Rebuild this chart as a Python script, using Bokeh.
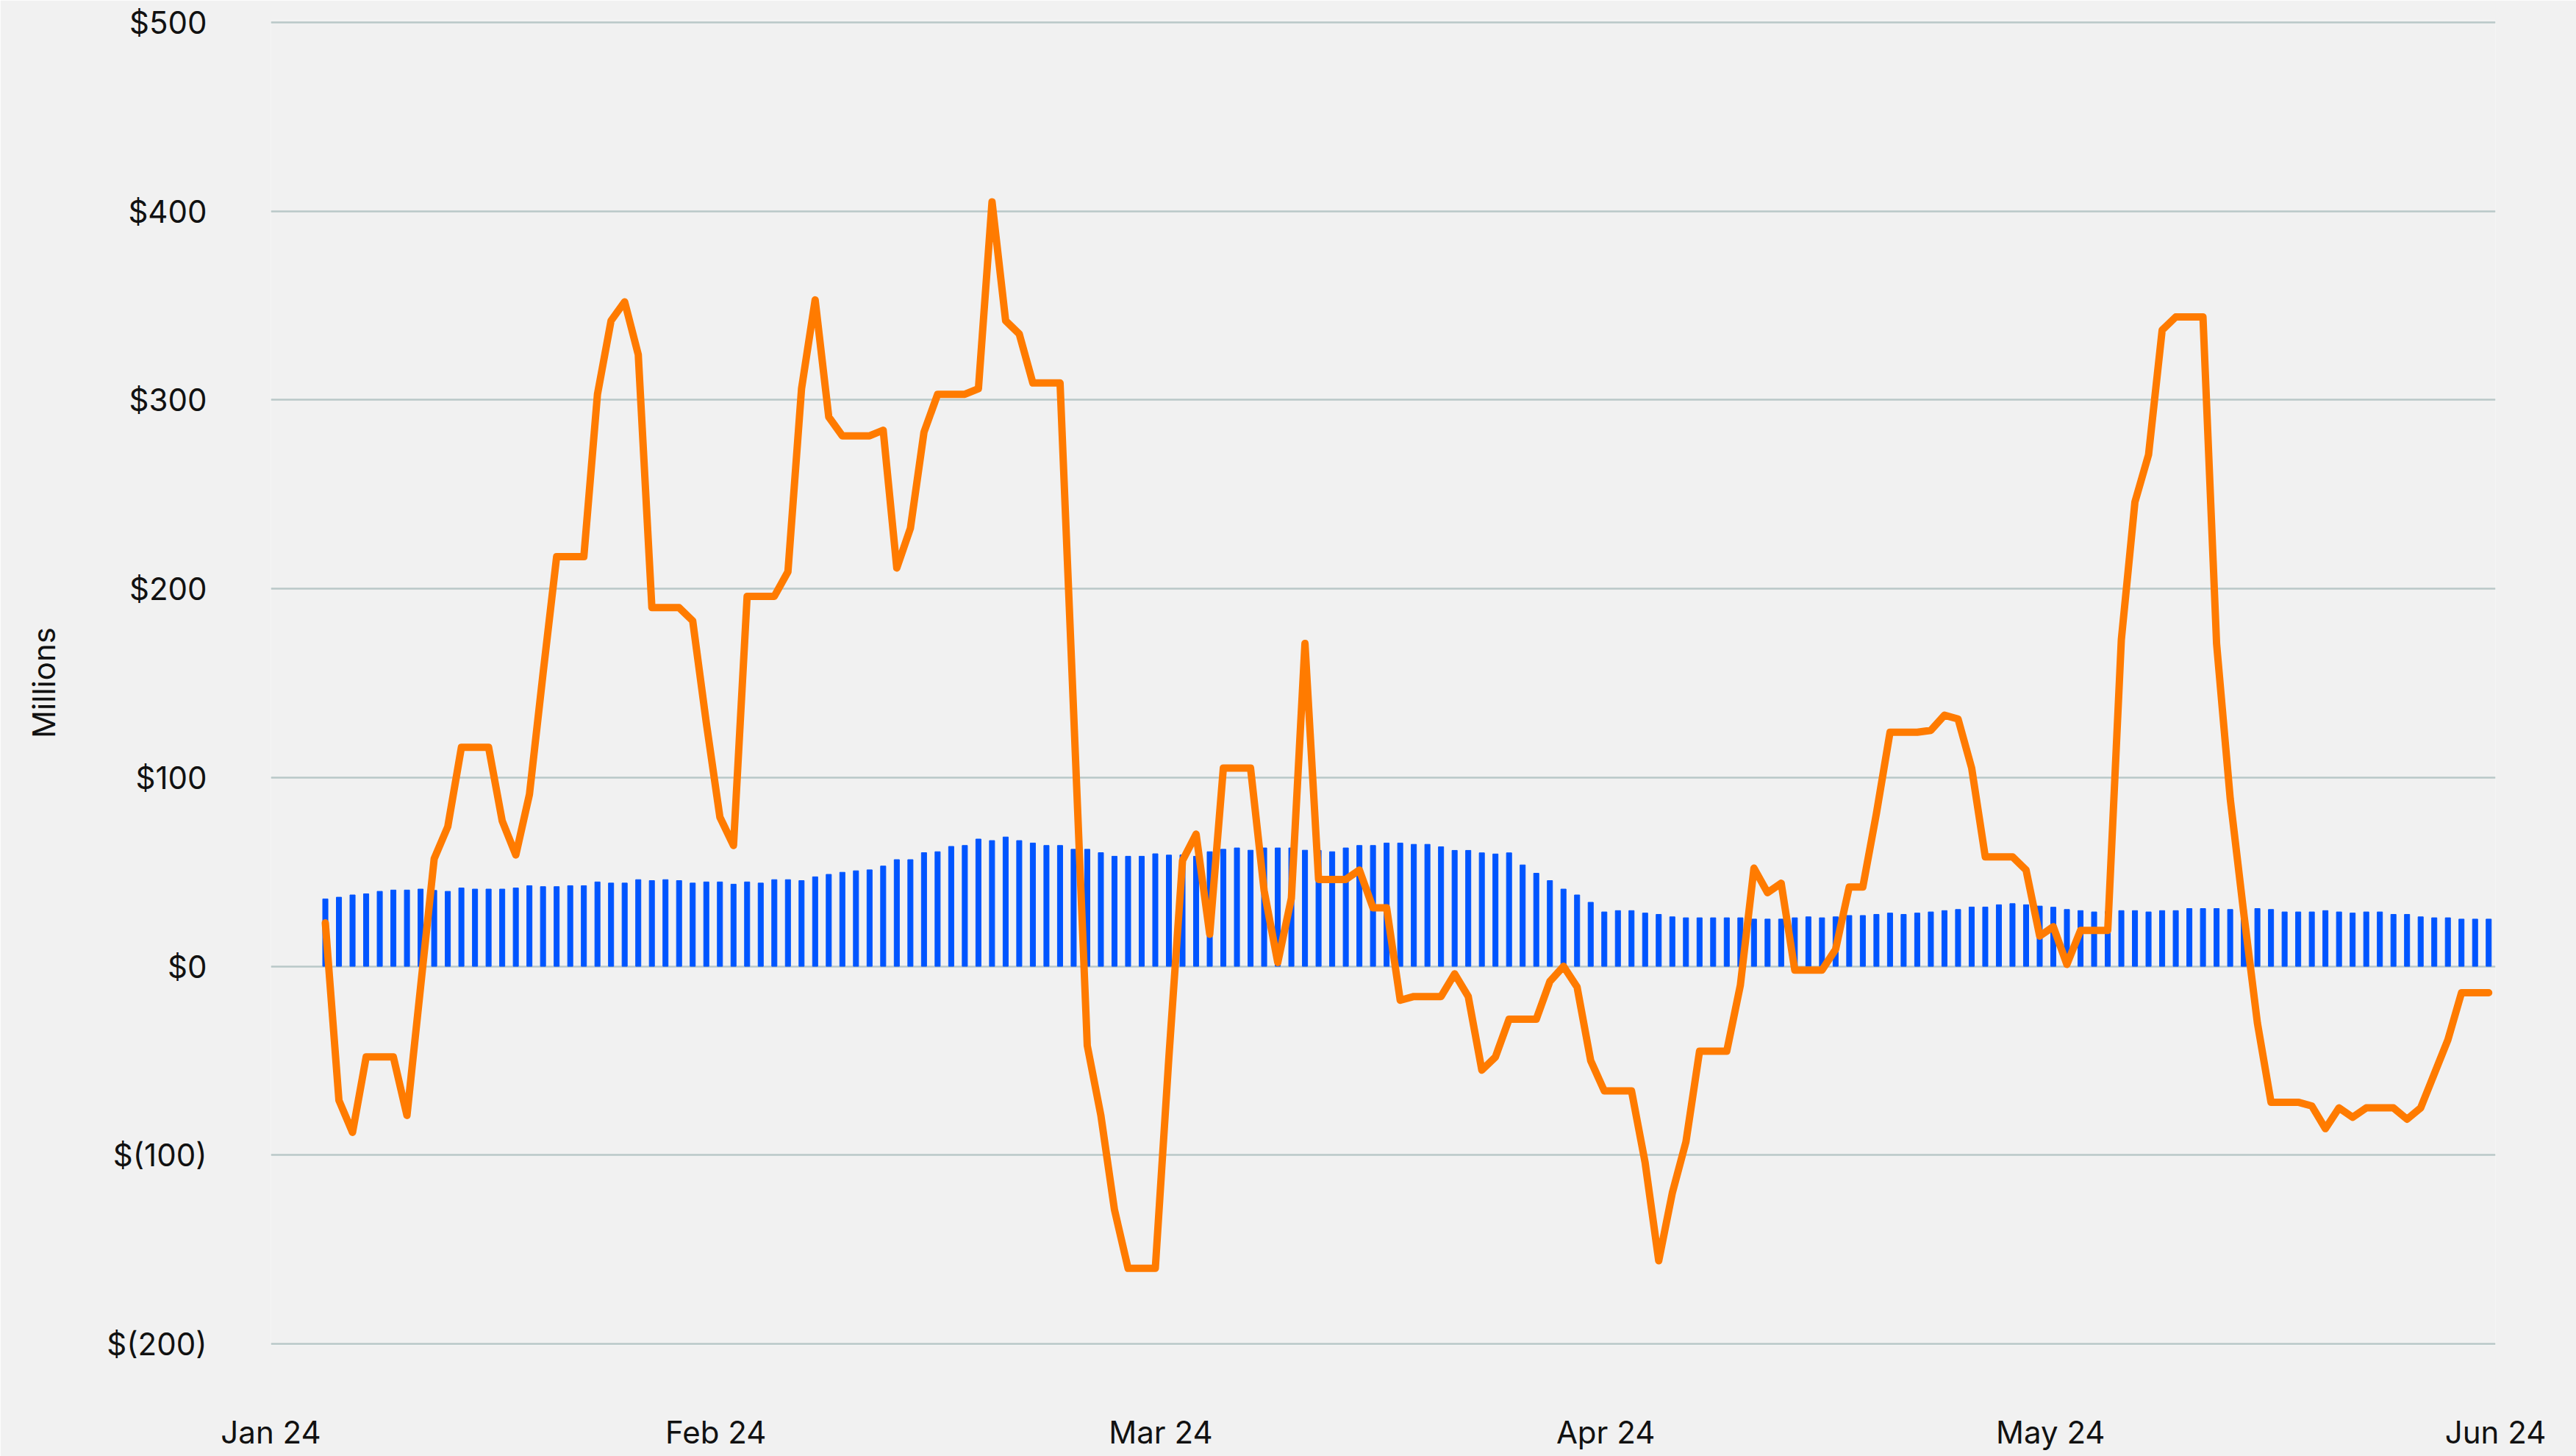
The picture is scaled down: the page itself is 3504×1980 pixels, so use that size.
from bokeh.plotting import figure
from bokeh.models import Range1d, FixedTicker
from bokeh.embed import file_html
from bokeh.resources import INLINE

# ---- data ----
bars = [35.7, 36.6, 37.8, 38.4, 39.7, 40.4, 40.4, 40.9, 40.2, 39.7,
        41.5, 40.9, 40.9, 40.9, 41.5, 42.7, 42.2, 42.2, 42.7, 42.7,
        44.7, 44.1, 44.1, 45.9, 45.4, 45.9, 45.4, 44.1, 44.7, 44.7,
        43.5, 44.7, 44.1, 45.9, 45.9, 45.4, 47.4, 48.7, 49.8, 50.6,
        51.1, 53.1, 56.5, 56.5, 60.2, 60.7, 63.5, 64.0, 67.4, 66.6,
        68.5, 66.6, 65.3, 64.0, 64.0, 62.0, 62.0, 60.2, 58.3, 58.3,
        58.3, 59.6, 58.9, 59.0, 58.3, 60.7, 62.0, 62.7, 61.5, 62.7,
        62.7, 62.7, 61.5, 61.4, 60.7, 62.7, 64.0, 64.0, 65.3, 65.3,
        64.6, 64.6, 63.3, 61.4, 61.4, 60.1, 59.5, 60.1, 53.7, 49.3,
        45.4, 40.9, 37.8, 33.9, 28.8, 29.5, 29.5, 28.2, 27.5, 26.2,
        25.7, 25.7, 25.7, 25.7, 25.7, 25.0, 25.0, 25.0, 25.7, 26.2,
        25.7, 26.2, 26.9, 26.9, 27.5, 28.2, 27.5, 28.2, 28.8, 29.5,
        30.1, 31.4, 31.4, 32.6, 33.2, 32.6, 31.9, 31.3, 30.1, 29.5,
        28.8, 29.0, 29.5, 29.5, 28.8, 29.5, 29.5, 30.6, 30.6, 30.6,
        30.1, 30.0, 30.6, 30.1, 28.8, 28.8, 28.8, 29.5, 28.8, 28.2,
        28.8, 28.8, 27.5, 27.5, 26.2, 25.7, 25.7, 25.0, 25.0, 25.0]

flow = [23, -71, -88, -48, -48, -48, -79, -11, 57, 74,
        116, 116, 116, 77, 59, 91, 155, 217, 217, 217,
        303, 342, 352, 324, 190, 190, 190, 183, 129, 79,
        64, 196, 196, 196, 209, 306, 353, 291, 281, 281,
        281, 284, 211, 232, 283, 303, 303, 303, 306, 405,
        342, 335, 309, 309, 309, 134, -42, -79, -129, -160,
        -160, -160, -48, 56, 70, 17, 105, 105, 105, 40,
        2, 36, 171, 46, 46, 46, 51, 31, 31, -18,
        -16, -16, -16, -4, -16, -55, -48, -28, -28, -28,
        -8, 0, -11, -50, -66, -66, -66, -104, -156, -120,
        -93, -45, -45, -45, -10, 52, 39, 44, -2, -2,
        -2, 9, 42, 42, 81, 124, 124, 124, 125, 133,
        131, 105, 58, 58, 58, 51, 16, 21, 1, 19,
        19, 19, 173, 246, 271, 337, 344, 344, 344, 171,
        89, 28, -30, -72, -72, -72, -74, -86, -75, -80,
        -75, -75, -75, -81, -75, -57, -39, -14, -14, -14]

month_labels = ["Jan 24", "Feb 24", "Mar 24", "Apr 24", "May 24", "Jun 24"]
y_ticks = [-200, -100, 0, 100, 200, 300, 400, 500]
y_tick_labels = ["$(200)", "$(100)", "$0", "$100", "$200", "$300", "$400", "$500"]

idx = list(range(len(bars)))
month_pos = [-4 + 32.7 * k for k in range(len(month_labels))]

BG = "#f1f1f1"
FONT = "Inter"
INK = "#111111"

p = figure(width=3504, height=1980,
           x_range=Range1d(-4, 159.5), y_range=Range1d(-200.78, 501.17),
           output_backend="svg", toolbar_location=None,
           min_border_left=368, min_border_right=110,
           min_border_top=27, min_border_bottom=151)
p.background_fill_color = BG
p.border_fill_color = BG
p.outline_line_color = None

p.vbar(x=idx, top=bars, bottom=0, width=0.38, color="#0055FF")
p.line(idx, flow, line_width=10, line_color="#FF7B00",
       line_join="round", line_cap="round")

# grid
p.xgrid.grid_line_color = None
p.ygrid.ticker = FixedTicker(ticks=y_ticks)
p.ygrid.grid_line_color = "#B9C8C8"
p.ygrid.grid_line_width = 2.5

# y axis
ya = p.yaxis[0]
ya.ticker = FixedTicker(ticks=y_ticks)
ya.major_label_overrides = {t: l for t, l in zip(y_ticks, y_tick_labels)}
ya.axis_line_color = None
ya.major_tick_line_color = None
ya.minor_tick_line_color = None
ya.major_tick_out = 0
ya.major_tick_in = 0
ya.major_label_text_font = FONT
ya.major_label_text_font_size = "42px"
ya.major_label_text_color = INK
ya.major_label_standoff = 87
ya.axis_label = "Millions"
ya.axis_label_text_font = FONT
ya.axis_label_text_font_size = "42px"
ya.axis_label_text_font_style = "normal"
ya.axis_label_text_color = INK
ya.axis_label_standoff = 57

# x axis
xa = p.xaxis[0]
xa.ticker = FixedTicker(ticks=month_pos)
xa.major_label_overrides = {t: l for t, l in zip(month_pos, month_labels)}
xa.axis_line_color = None
xa.major_tick_line_color = None
xa.minor_tick_line_color = None
xa.major_tick_out = 0
xa.major_tick_in = 0
xa.major_label_text_font = FONT
xa.major_label_text_font_size = "42px"
xa.major_label_text_color = INK
xa.major_label_standoff = 92

open("out.html", "w").write(file_html(p, INLINE))
